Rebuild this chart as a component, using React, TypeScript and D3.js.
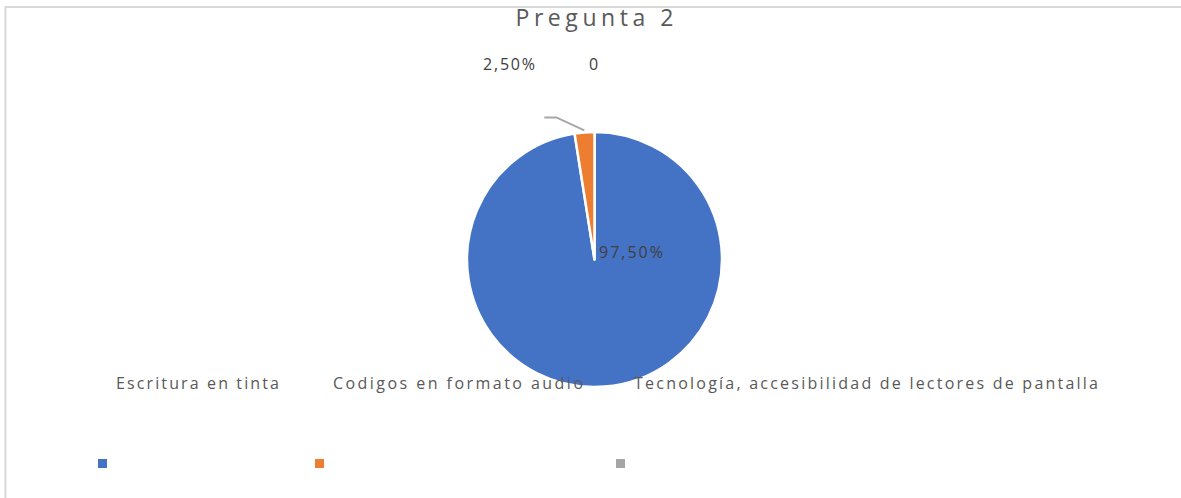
import React, { useEffect, useRef } from 'react';
import * as d3 from 'd3';

// chart data
const categories = ['Escritura en tinta', 'Codigos en formato audio', 'Tecnología, accesibilidad de lectores de pantalla'];
const values = [0.975, 0.025, 0];
const valueLabels = ['97,50%', '2,50%', '0'];
const colors = ['#4472c4', '#ed7d31', '#a5a5a5'];
const title = 'Pregunta 2';

// layout helpers (legend x spots and text widths)
const legendX = [98, 315, 616];
const legendTextWidth = [163, 250, 464];

function App() {
  const svgRef = useRef<SVGSVGElement>(null);

  useEffect(() => {
    document.body.style.margin = '0';
    const width = 1181;
    const height = 498;
    const svg = d3.select(svgRef.current);
    svg.selectAll('*').remove();
    svg.attr('width', width).attr('height', height);

    const font = "'Open Sans', sans-serif";
    const textColor = '#595959';
    const cx = 594.5;
    const cy = 259.5;
    const r = 127.5;

    svg.append('rect').attr('width', width).attr('height', height).attr('fill', '#fff');

    // title
    svg.append('text')
      .attr('x', cx)
      .attr('y', 26)
      .attr('text-anchor', 'middle')
      .attr('font-family', font)
      .attr('font-size', 23)
      .attr('fill', textColor)
      .attr('textLength', 158)
      .attr('lengthAdjust', 'spacing')
      .text(title);

    // frame
    svg.append('path')
      .attr('d', `M5.5,${height} V7 H${width}`)
      .attr('fill', 'none')
      .attr('stroke', '#d9d9d9')
      .attr('stroke-width', 2);

    const pie = d3.pie<number>().sort(null).value((d) => d);
    const arcs = pie(values);
    const arc = d3.arc<d3.PieArcDatum<number>>().innerRadius(0).outerRadius(r);

    const g = svg.append('g').attr('transform', `translate(${cx},${cy})`);
    g.selectAll('path.slice')
      .data(arcs)
      .enter()
      .append('path')
      .attr('class', 'slice')
      .attr('d', arc)
      .attr('fill', (d, i) => colors[i])
      .attr('stroke', '#fff')
      .attr('stroke-width', (d) => (d.value > 0 ? 2.5 : 0))
      .attr('stroke-linejoin', 'round');

    // leader line for the small slice
    const small = arcs[1];
    const mid = (small.startAngle + small.endAngle) / 2;
    const p0: [number, number] = [Math.sin(mid) * (r + 2), -Math.cos(mid) * (r + 2)];
    const leader = d3.line()([
      [p0[0], p0[1]],
      [p0[0] - 28, p0[1] - 13],
      [p0[0] - 40, p0[1] - 13],
    ]);
    g.append('path')
      .attr('d', leader)
      .attr('fill', 'none')
      .attr('stroke', '#a6a6a6')
      .attr('stroke-width', 2);

    // data labels
    const labelStyle = (sel: any) =>
      sel.attr('font-family', font).attr('font-size', 16).attr('fill', '#404040');

    g.append('text')
      .attr('x', 4.5)
      .attr('y', -1.5)
      .attr('textLength', 64)
      .attr('lengthAdjust', 'spacing')
      .call(labelStyle)
      .text(valueLabels[0]);

    g.append('text')
      .attr('x', -111.5)
      .attr('y', -189.5)
      .attr('textLength', 52)
      .attr('lengthAdjust', 'spacing')
      .call(labelStyle)
      .text(valueLabels[1]);

    g.append('text')
      .attr('x', -5.5)
      .attr('y', -189.5)
      .call(labelStyle)
      .text(valueLabels[2]);

    // legend: names on one row, swatches on the row below
    const legend = svg.append('g');
    const items = legend.selectAll('g.item')
      .data(categories)
      .enter()
      .append('g')
      .attr('class', 'item')
      .attr('transform', (d, i) => `translate(${legendX[i]},0)`);

    items.append('text')
      .attr('x', 18)
      .attr('y', 389)
      .attr('font-family', font)
      .attr('font-size', 16)
      .attr('fill', textColor)
      .attr('textLength', (d, i) => legendTextWidth[i])
      .attr('lengthAdjust', 'spacing')
      .text((d) => d);

    items.append('rect')
      .attr('x', 0)
      .attr('y', 459)
      .attr('width', 9)
      .attr('height', 9)
      .attr('fill', (d, i) => colors[i]);
  }, []);

  return <svg ref={svgRef} style={{ display: 'block' }}></svg>;
}

export default App;
